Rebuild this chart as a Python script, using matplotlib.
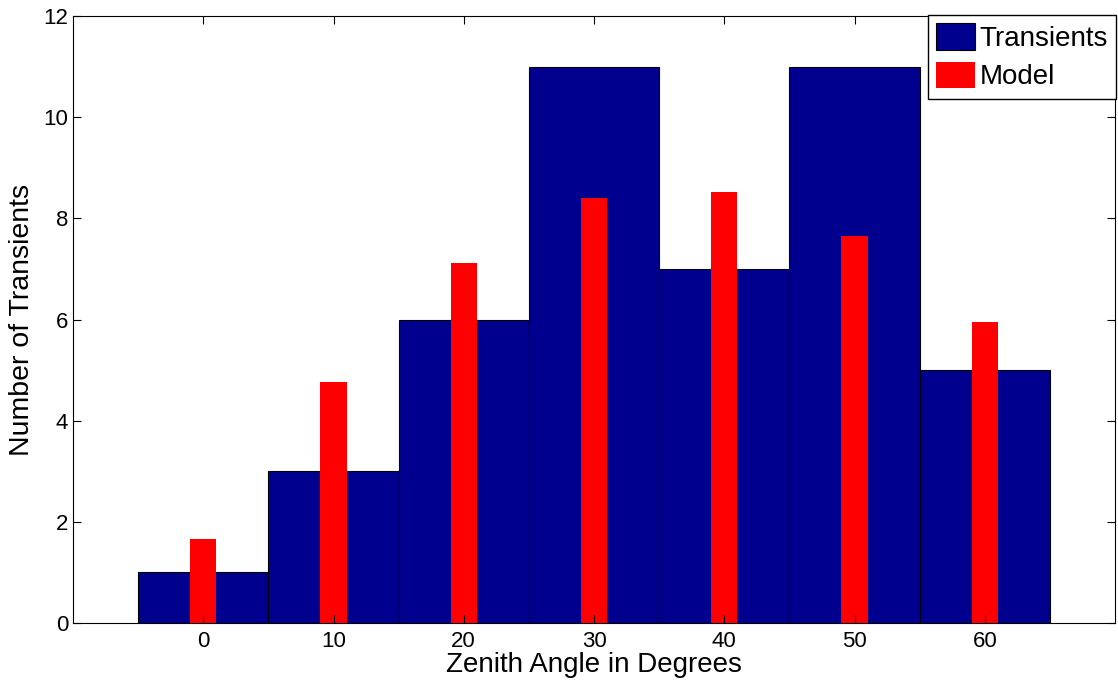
import matplotlib
matplotlib.use('Agg')
import matplotlib.pyplot as plt

plt.rcParams['font.family'] = ['Liberation Sans', 'DejaVu Sans']

angles = [0, 10, 20, 30, 40, 50, 60]
transients = [1, 3, 6, 11, 7, 11, 5]
model = [1.66, 4.77, 7.12, 8.41, 8.53, 7.66, 5.96]

fig = plt.figure(figsize=(11.18, 6.83), dpi=100)
ax = fig.add_axes([73 / 1118, 60 / 683, 1042 / 1118, 607 / 683])

ax.bar(angles, transients, width=10, color='#00008f', edgecolor='black',
       linewidth=0.8, label='Transients')
ax.bar(angles, model, width=2, color='#ff0000', edgecolor='none', label='Model')

ax.set_xlim(-10, 70)
ax.set_ylim(0, 12)
ax.set_xticks(angles)
ax.set_yticks(range(0, 13, 2))
ax.tick_params(direction='in', top=True, right=True, labelsize=16, length=6)
ax.tick_params(axis='x', pad=6)
ax.set_xlabel('Zenith Angle in Degrees', fontsize=20, labelpad=0)
ax.set_ylabel('Number of Transients', fontsize=20.5, labelpad=6)

leg = ax.legend(loc='upper right', bbox_to_anchor=(1.001, 1.002), fontsize=20,
                fancybox=False, framealpha=1, edgecolor='black',
                handlelength=1.4, handleheight=1.1, handletextpad=0.15,
                labelspacing=0.35, borderpad=0.3, borderaxespad=0)
leg.get_frame().set_linewidth(1.0)

fig.savefig('out.png', dpi=100)
